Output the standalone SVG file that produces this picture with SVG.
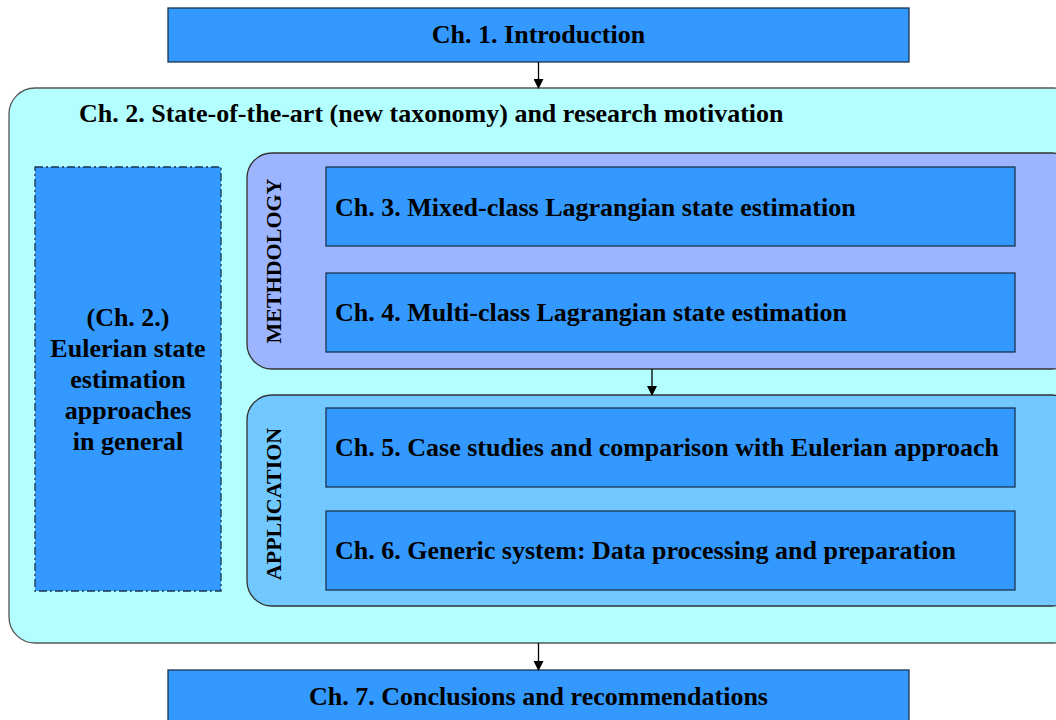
<svg xmlns="http://www.w3.org/2000/svg" width="1056" height="720" viewBox="0 0 1056 720">
<style>
.box{fill:#3399FF;stroke:#1a3550;stroke-width:1.3}
.t{font-family:"Liberation Serif","Times New Roman",serif;font-weight:bold;font-size:26px;fill:#000}
.r{font-size:22px}
.c{text-anchor:middle}
.conn{stroke:#000;stroke-width:1.3;fill:none}
</style>
<defs>
<marker id="ah" markerWidth="10" markerHeight="10" refX="9" refY="5" orient="auto" markerUnits="userSpaceOnUse">
<path d="M0,0 L10,5 L0,10 Z" fill="#000"/>
</marker>
<pattern id="dots" width="8" height="8" patternUnits="userSpaceOnUse">
<rect width="8" height="8" fill="#70C8FF"/>
<rect x="3" y="3" width="1" height="1" fill="#9ADAFF"/>
</pattern>
</defs>
<rect width="1056" height="720" fill="#fff"/>
<g id="ch1">
<rect class="box" x="168" y="8" width="741" height="54"/>
<text class="t c" x="538.5" y="43">Ch. 1. Introduction</text>
</g>
<g id="ch2">
<rect x="9" y="88" width="1070" height="555" rx="26" fill="#B3FFFF" stroke="#555" stroke-width="1.3"/>
<text class="t" x="79" y="122">Ch. 2. State-of-the-art (new taxonomy) and research motivation</text>
</g>
<g id="eulerian">
<rect x="35" y="167" width="186" height="424" fill="#3399FF" stroke="#1a3550" stroke-width="1.3" stroke-dasharray="8,3,2,3"/>
<text class="t c" x="128" y="326">(Ch. 2.)</text>
<text class="t c" x="128" y="357">Eulerian state</text>
<text class="t c" x="128" y="388">estimation</text>
<text class="t c" x="128" y="419">approaches</text>
<text class="t c" x="128" y="450">in general</text>
</g>
<g id="methodology">
<rect x="247" y="153" width="830" height="216" rx="25" fill="#9DB5FF" stroke="#333" stroke-width="1.3"/>
<text class="t r c" transform="translate(281,261) rotate(-90)" x="0" y="0">METHDOLOGY</text>
</g>
<g id="ch3">
<rect class="box" x="326" y="167" width="689" height="79"/>
<text class="t" x="335" y="216">Ch. 3. Mixed-class Lagrangian state estimation</text>
</g>
<g id="ch4">
<rect class="box" x="326" y="273" width="689" height="79"/>
<text class="t" x="335" y="321">Ch. 4. Multi-class Lagrangian state estimation</text>
</g>
<g id="application">
<rect x="247" y="395" width="830" height="211" rx="25" fill="url(#dots)" stroke="#333" stroke-width="1.3"/>
<text class="t r c" transform="translate(281,504) rotate(-90)" x="0" y="0">APPLICATION</text>
</g>
<g id="ch5">
<rect class="box" x="326" y="408" width="689" height="79"/>
<text class="t" x="335" y="456">Ch. 5. Case studies and comparison with Eulerian approach</text>
</g>
<g id="ch6">
<rect class="box" x="326" y="511" width="689" height="79"/>
<text class="t" x="335" y="559">Ch. 6. Generic system: Data processing and preparation</text>
</g>
<g id="ch7">
<rect class="box" x="168" y="670" width="741" height="60"/>
<text class="t c" x="538.5" y="705">Ch. 7. Conclusions and recommendations</text>
</g>
<g id="connectors">
<line class="conn" x1="538.5" y1="62" x2="538.5" y2="88" marker-end="url(#ah)"/>
<line class="conn" x1="652" y1="369" x2="652" y2="395" marker-end="url(#ah)"/>
<line class="conn" x1="538.5" y1="643" x2="538.5" y2="670" marker-end="url(#ah)"/>
</g>
</svg>
